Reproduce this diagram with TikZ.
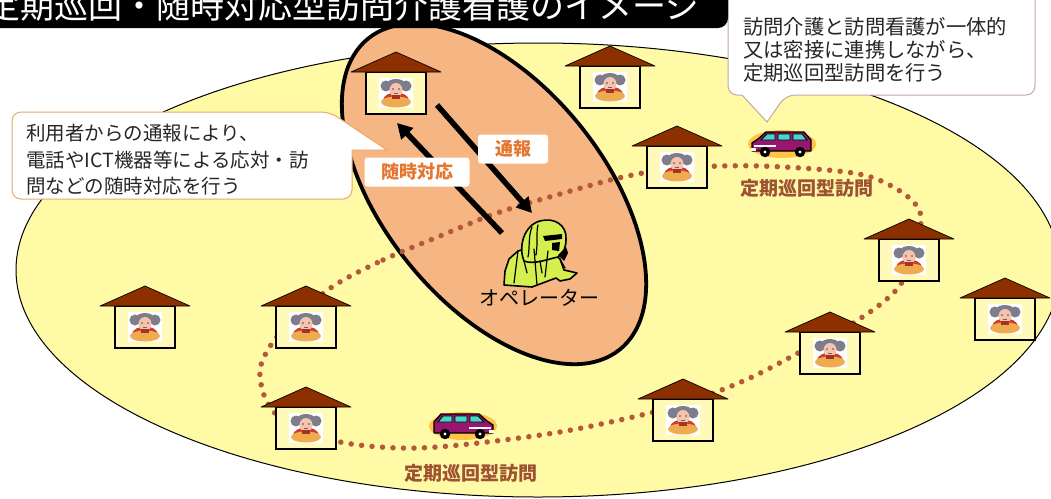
\documentclass[tikz,border=0pt]{standalone}
\usepackage{fontspec}
\setmainfont{Noto Sans CJK JP}
\usetikzlibrary{arrows.meta,calc}

\definecolor{fieldyellow}{RGB}{255,250,165}
\definecolor{zonepeach}{RGB}{245,182,132}
\definecolor{roofbrown}{RGB}{140,48,0}
\definecolor{housefill}{RGB}{255,250,185}
\definecolor{routebrown}{RGB}{182,88,58}
\definecolor{tagorange}{RGB}{228,118,48}
\definecolor{visitbrown}{RGB}{158,82,52}
\definecolor{calloutedgeA}{RGB}{232,168,110}
\definecolor{calloutedgeB}{RGB}{196,168,168}
\definecolor{opgreen}{RGB}{212,240,80}
\definecolor{hairgrey}{RGB}{125,125,140}
\definecolor{skin}{RGB}{246,196,172}
\definecolor{shirtred}{RGB}{206,62,48}
\definecolor{lapgold}{RGB}{238,172,78}
\definecolor{vanpurple}{RGB}{150,22,112}
\definecolor{vancyan}{RGB}{70,215,200}
\definecolor{glow}{RGB}{255,196,70}

\tikzset{
  housebody/.style={rectangle, draw=black, line width=1.2pt, fill=housefill,
    minimum width=60pt, minimum height=42pt, inner sep=0pt, outer sep=0pt},
  roof/.style={fill=roofbrown, draw=black, line width=0.7pt, line join=round},
  route/.style={draw=routebrown, line width=5.5pt, line cap=round,
    dash pattern=on 0pt off 10.5pt},
  bigarrow/.style={draw=black, line width=5.5pt,
    -{Triangle[length=15pt,width=16pt]}},
  tag/.style={fill=white, rounded corners=3pt, text=tagorange, inner sep=0pt,
    font=\fontsize{18}{18}\selectfont\bfseries, minimum height=29pt},
  visit/.style={text=visitbrown, inner sep=0pt,
    font=\fontsize{19}{19}\selectfont\bfseries},
  calltext/.style={inner sep=0pt, align=left, text=black!85},
  elder/.pic={
    \fill[white] (-17,-15) rectangle (17,15);
    \fill[hairgrey] (-10,7) circle (5.5);
    \fill[hairgrey] (10,7) circle (5.5);
    \fill[hairgrey] (0,9) ellipse (9 and 5);
    \fill[shirtred] (-13,-7) .. controls (-11,3) and (11,3) .. (13,-7) -- cycle;
    \fill[skin] (0,3) ellipse (6.5 and 7);
    \fill[black!70] (-3,4) circle (0.9) (3,4) circle (0.9);
    \draw[black!60, line width=0.6pt] (-2,0) -- (2,0);
    \fill[lapgold] (0,-9) ellipse (15 and 5.5);
    \fill[shirtred!80!black] (-4,-6) rectangle (4,-2);
  },
  van/.pic={
    \fill[glow] (0,-1) ellipse (34 and 14);
    \filldraw[fill=vanpurple, draw=black, line width=1.3pt, line join=round]
      (-30,-8) -- (-30,0) -- (-24,4) -- (-16,11) -- (22,11) -- (29,3) -- (29,-8) -- cycle;
    \filldraw[fill=vancyan, draw=black, line width=0.8pt]
      (-15,9) -- (-21,3) -- (-7,3) -- (-7,9) -- cycle
      (-4,3) rectangle (8,9)
      (11,3) -- (11,9) -- (20,9) -- (25,3) -- cycle;
    \fill[white] (-28,-4) rectangle (-6,-1.5);
    \fill[white] (-31,-8) rectangle (-26,-5);
    \filldraw[fill=black] (-17,-9) circle (5) (18,-9) circle (5);
    \fill[white] (-17,-9) circle (1.6) (18,-9) circle (1.6);
  },
  operatorfig/.pic={
    % jacket
    \filldraw[fill=opgreen, draw=black, line width=1.6pt, line join=round]
      (-36,-32) -- (-35,-18) -- (-31,-6) -- (-22,2) -- (-8,6) -- (10,2)
      -- (20,-6) -- (24,-17) -- (37,-20) -- (30,-26) -- (20,-28) -- (16,-25)
      -- (-8,-34) -- cycle;
    % long wavy hair
    \filldraw[fill=opgreen, draw=black, line width=1.6pt, line join=round]
      (-16,-8) .. controls (-22,6) and (-16,28) .. (0,32)
      .. controls (14,36) and (27,28) .. (26,14)
      .. controls (26,6) and (24,0) .. (18,-4)
      .. controls (8,-6) and (-6,-12) .. (-16,-8) -- cycle;
    % sunglasses, face shadow and the hand holding the receiver
    \fill[black] (3,17) -- (22,19) -- (22,14) -- (5,12) -- cycle;
    \fill[black] (12,10) -- (20,11) -- (19,2) -- (12,3) -- cycle;
    \fill[black] (18,-2) -- (26,6) -- (28,0) -- (24,-8) -- cycle;
    % hair strands and jacket folds
    \draw[black, line width=1.2pt, line cap=round]
      (-8,26) .. controls (-12,16) and (-10,6) .. (-12,-4)
      (-2,28) .. controls (-4,20) and (-2,10) .. (-4,-2)
      (-22,2) -- (-26,-30) (-6,4) -- (-3,-32) (8,2) -- (5,-24)
      (-16,-8) -- (-13,-20) (0,-8) -- (2,-20) (20,-6) -- (25,-15);
  }
}

% a house: name, centre x, top y of the walls (screen pixels)
\newcommand\house[3]{%
  \node[housebody] (#1) at (#2,-#3-21) {};
  \path[roof] ($(#1.north)+(-45,0)$) -- ($(#1.north)+(0,20)$)
    -- ($(#1.north)+(45,0)$) -- cycle;
  \pic at (#1.center) {elder};
}

\begin{document}
\begin{tikzpicture}[x=1pt,y=1pt]
\useasboundingbox (0,0) rectangle (1051,-498);
\clip (0,0) rectangle (1051,-498);
\fill[white] (0,0) rectangle (1051,-498);

% service area and the operator's zone
\draw[fill=fieldyellow, line width=1pt] (538,-270) ellipse [x radius=522, y radius=227];
\draw[fill=zonepeach, line width=3.8pt, rotate around={-51:(494,-194)}]
  (494,-194) ellipse [x radius=200, y radius=110];

% scheduled round-trip route
\draw[route] plot[smooth cycle, tension=0.55] coordinates {
  (335,-285) (383,-260) (440,-236) (497,-213) (560,-194) (623,-177)
  (680,-168) (760,-166) (853,-173) (895,-188) (920,-212) (915,-250)
  (898,-288) (858,-320) (800,-352) (750,-378) (700,-398) (650,-413)
  (560,-432) (460,-445) (400,-448) (340,-442) (290,-425) (267,-402)
  (260,-370) (273,-342) (300,-313)};

% homes
\house{h1}{396}{72}
\house{h2}{610}{66}
\house{h3}{677}{146}
\house{h4}{909}{239}
\house{h5}{1005}{298}
\house{h6}{830}{332}
\house{h7}{683}{399}
\house{h8}{306}{407}
\house{h9}{145}{306}
\house{h10}{306}{306}

% visiting vans
\pic at (782,-143) {van};
\pic[xscale=-1] at (463,-425) {van};

% operator
\pic at (540,-253) {operatorfig};
\node[inner sep=0pt, font=\fontsize{20}{20}\selectfont] (op) at (539,-298) {オペレーター};

% calls and responses
\coordinate (op-in) at (532,-213);
\coordinate (op-out) at (502,-233);
\coordinate (h1-out) at (437,-105);
\coordinate (h1-in) at (397,-123);
\draw[bigarrow] (op-out) -- (h1-in);
\draw[bigarrow] (h1-out) -- (op-in);
\node[tag, minimum width=105pt] (zuiji) at (417,-172) {随時対応};
\node[tag, minimum width=70pt] (tsuho) at (513,-149) {通報};

\node[visit] (visit1) at (807,-188) {定期巡回型訪問};
\node[visit] (visit2) at (471,-473) {定期巡回型訪問};

% callout: on-demand response
\draw[fill=white, draw=calloutedgeA, line width=1pt, rounded corners=9pt]
  (12,-150) |- (330,-112) [sharp corners] -- (387,-150) -- (352,-150)
  [rounded corners=9pt] |- (12,-199) -- cycle;
\node[calltext, anchor=west, font=\fontsize{19.5}{26.5}\selectfont] (calloutA) at (26,-160)
  {利用者からの通報により、\\電話やICT機器等による応対・訪\\問などの随時対応を行う};

% callout: scheduled visits
\draw[fill=white, draw=calloutedgeB, line width=1pt, rounded corners=9pt]
  (728,-60) |- (1035,12) |- (786,-95) [sharp corners] -- (767,-122) -- (742,-95)
  [rounded corners=9pt] -| (728,-60);
\node[calltext, anchor=west, font=\fontsize{20.3}{23}\selectfont] (calloutB) at (743,-50)
  {訪問介護と訪問看護が一体的\\又は密接に連携しながら、\\定期巡回型訪問を行う};

% title bar
\fill[black, rounded corners=10pt] (-20,20) -- (728,20) -- (728,-28) -- (-20,-28) -- cycle;
\node[anchor=base west, inner sep=0pt, text=white, font=\fontsize{34}{34}\selectfont]
  (title) at (-14,-18) {定期巡回・随時対応型訪問介護看護のイメージ};
\end{tikzpicture}
\end{document}
